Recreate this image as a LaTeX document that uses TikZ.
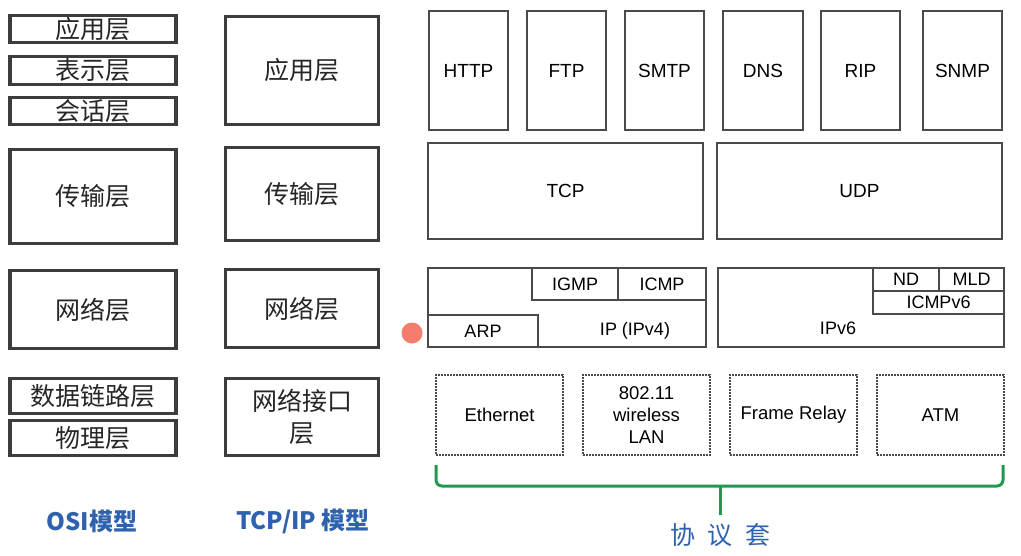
\documentclass[tikz,border=0pt]{standalone}
\usepackage{fontspec}
\setmainfont{Liberation Sans}
\newfontfamily\cjk{Noto Sans CJK SC}
\definecolor{boxgray}{HTML}{3C3C3C}
\definecolor{thingray}{HTML}{4A4A4A}
\definecolor{bracegreen}{HTML}{1E9A50}
\definecolor{titleblue}{HTML}{2F62AE}
\definecolor{dotred}{HTML}{F47D6E}
\tikzset{
  layerbox/.style={draw=boxgray, line width=3.5pt, fill=white, inner sep=0pt, align=center,
    font=\cjk\fontsize{25}{32}\selectfont, text=black!85},
  protobox/.style={draw=thingray, line width=1.3pt, fill=white, inner sep=0pt, align=center,
    font=\fontsize{19}{22}\selectfont},
  ipbox/.style={draw=thingray, line width=1.3pt, inner sep=0pt, align=center,
    font=\fontsize{18}{20}\selectfont},
  linkbox/.style={draw=thingray, line width=1.2pt, dash pattern=on 2pt off 1pt, inner sep=0pt,
    align=center, font=\fontsize{18.5}{22}\selectfont},
  iptext/.style={inner sep=0pt, font=\fontsize{18}{20}\selectfont},
  title/.style={text=titleblue, inner sep=0pt, font=\cjk\bfseries\fontsize{24}{28}\selectfont},
  suite/.style={text=titleblue, inner sep=0pt, font=\cjk\fontsize{25}{28}\selectfont},
  brace/.style={draw=bracegreen, line width=3pt, rounded corners=6pt}
}
\begin{document}
\begin{tikzpicture}[x=1pt,y=-1pt]
\useasboundingbox[fill=white] (0,0) rectangle (1021,555);
% OSI column
\node[layerbox, minimum width=166, minimum height=27] (o1) at (93,29) {应用层};
\node[layerbox, minimum width=166, minimum height=28] (o2) at (93,70.5) {表示层};
\node[layerbox, minimum width=166, minimum height=27] (o3) at (93,111) {会话层};
\node[layerbox, minimum width=166, minimum height=94] (o4) at (93,196.5) {传输层};
\node[layerbox, minimum width=166, minimum height=78] (o5) at (93,309.5) {网络层};
\node[layerbox, minimum width=166, minimum height=35] (o6) at (93,396) {数据链路层};
\node[layerbox, minimum width=166, minimum height=35] (o7) at (93,438) {物理层};
% TCP/IP column
\node[layerbox, minimum width=153, minimum height=108] (t1) at (302,70.5) {应用层};
\node[layerbox, minimum width=153, minimum height=93] (t2) at (302,194) {传输层};
\node[layerbox, minimum width=153, minimum height=78] (t3) at (302,308.5) {网络层};
\node[layerbox, minimum width=153, minimum height=77] (t4) at (302,417) {网络接口\\层};
% application protocols
\node[protobox, minimum width=79, minimum height=119] (http) at (468.5,70.5) {HTTP};
\node[protobox, minimum width=79, minimum height=119] (ftp) at (566.5,70.5) {FTP};
\node[protobox, minimum width=79, minimum height=119] (smtp) at (664.5,70.5) {SMTP};
\node[protobox, minimum width=80, minimum height=119] (dns) at (763,70.5) {DNS};
\node[protobox, minimum width=79, minimum height=119] (rip) at (860.5,70.5) {RIP};
\node[protobox, minimum width=79, minimum height=119] (snmp) at (962.5,70.5) {SNMP};
% transport
\node[protobox, minimum width=275, minimum height=96] (tcp) at (565.5,191) {TCP};
\node[protobox, minimum width=285, minimum height=96] (udp) at (859.5,191) {UDP};
% IPv4
\node[ipbox, minimum width=278, minimum height=79] (ip4) at (567,307.5) {};
\node[iptext] (ip4t) at (635,331) {IP (IPv4)};
\node[ipbox, minimum width=86, minimum height=32] (igmp) at (575,284) {IGMP};
\node[ipbox, minimum width=88, minimum height=32] (icmp) at (662,284) {ICMP};
\node[ipbox, minimum width=110, minimum height=32] (arp) at (483,331) {ARP};
% IPv6
\node[ipbox, minimum width=286, minimum height=79] (ip6) at (861,307.5) {};
\node[iptext] (ip6t) at (838,328) {IPv6};
\node[ipbox, minimum width=66, minimum height=23] (nd) at (906,279.5) {ND};
\node[ipbox, minimum width=65, minimum height=23] (mld) at (971.5,279.5) {MLD};
\node[ipbox, minimum width=131, minimum height=23] (icmp6) at (938.5,302.5) {ICMPv6};
% link layer
\node[linkbox, minimum width=127, minimum height=80] (eth) at (499.5,415) {Ethernet};
\node[linkbox, minimum width=127, minimum height=80] (wlan) at (646.5,415) {802.11\\wireless\\LAN};
\node[linkbox, minimum width=127, minimum height=80] (fr) at (793.5,415) {Frame Relay};
\node[linkbox, minimum width=127, minimum height=80] (atm) at (940.5,415) {ATM};
% brace
\coordinate (bl) at (436,465);
\coordinate (br) at (1003,465);
\coordinate (bm) at (720,486);
\coordinate (bt) at (720,515);
\draw[brace] (bl) -- (436,486) -- (1003,486) -- (br);
\draw[draw=bracegreen, line width=3pt] (bm) -- (bt);
% titles
\node[title] (osit) at (92,521) {OSI模型};
\node[title] (tcpt) at (303,521) {TCP/IP 模型};
\node[suite] (suitet) at (720,535) {协\hspace{0.5em}议\hspace{0.5em}套};
% cursor highlight
\fill[dotred] (412,333) circle (10.5);
\end{tikzpicture}
\end{document}
